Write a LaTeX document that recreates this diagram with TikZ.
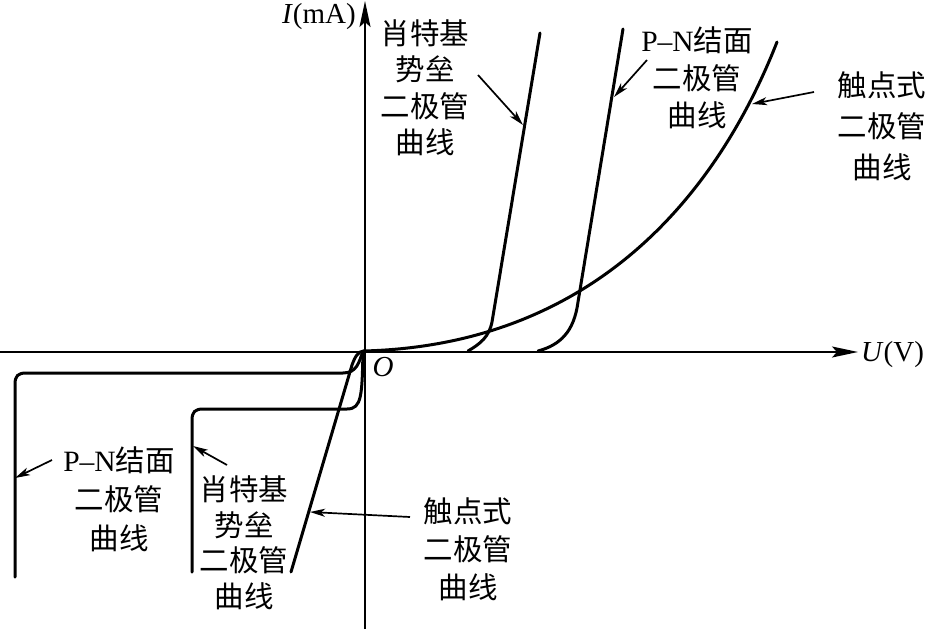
\documentclass[tikz,border=0pt]{standalone}
\usepackage{fontspec}
\setmainfont{Liberation Serif}
\newfontfamily\cjk{Noto Sans CJK SC}
\usetikzlibrary{arrows.meta}
\tikzset{
  axis/.style={line width=1.9pt,-{Stealth[length=26pt,width=11pt,inset=5pt]}},
  curve/.style={line width=3pt,line cap=round,line join=round},
  pointer/.style={line width=1.7pt,-{Stealth[length=15pt,width=8pt,inset=4pt]}},
  lbl/.style={align=center,inner sep=0pt,font=\fontsize{29.5}{36.5}\selectfont},
  axl/.style={inner sep=0pt,font=\fontsize{29}{34}\selectfont}
}
\begin{document}
\begin{tikzpicture}[x=1pt,y=-1pt]
\useasboundingbox (0,0) rectangle (928,629);
% axes
\coordinate (xs) at (0,352);
\coordinate (xe) at (858,352);
\coordinate (ys) at (365,629);
\coordinate (ye) at (365,1);
\draw[axis] (xs) -- (xe);
\draw[axis] (ys) -- (ye);
\node[axl,anchor=east] (ylab) at (356,17) {\textit{I}(mA)};
\node[axl,anchor=west] (xlab) at (861,355) {\textit{U}(V)};
\node[axl] (orig) at (383,367) {\textit{O}};
% forward curves
\draw[curve] (468,351) .. controls (480,344) and (489,337) .. (492,322) -- (540,33);
\draw[curve] (538,351) .. controls (560,345) and (574,332) .. (578,302) -- (623,29);
\draw[curve] (364,351) .. controls (590,345) and (715,200) .. (777,42);
% reverse curves
\draw[curve] (363,351) .. controls (359,362) and (357,373) .. (343,373) -- (26,373) .. controls (18,373) and (15,376) .. (15,384) -- (15,577);
\draw[curve] (363,351) .. controls (362,395) and (362,409) .. (347,409) -- (203,409) .. controls (195,409) and (192,412) .. (192,420) -- (192,572);
\draw[curve] (364,351) .. controls (358,351) and (355,357) .. (352,365) -- (291,572);
% labels
\node[lbl] (tS) at (425,88) {\cjk 肖特基\\\cjk 势垒\\\cjk 二极管\\\cjk 曲线};
\node[lbl,font=\fontsize{29.5}{37.5}\selectfont] (tP) at (697,78) {P–N\cjk 结面\\\cjk 二极管\\\cjk 曲线};
\node[lbl,font=\fontsize{29.5}{41}\selectfont] (tC) at (882,126) {\cjk 触点式\\\cjk 二极管\\\cjk 曲线};
\node[lbl,font=\fontsize{29.5}{39}\selectfont] (bP) at (119,499) {P–N\cjk 结面\\\cjk 二极管\\\cjk 曲线};
\node[lbl,font=\fontsize{29.5}{35.5}\selectfont] (bS) at (244,543) {\cjk 肖特基\\\cjk 势垒\\\cjk 二极管\\\cjk 曲线};
\node[lbl,font=\fontsize{29.5}{38}\selectfont] (bC) at (468,549) {\cjk 触点式\\\cjk 二极管\\\cjk 曲线};
% pointers
\coordinate (tSa) at (478,75);  \coordinate (tSb) at (523,125);
\coordinate (tPa) at (647,60);  \coordinate (tPb) at (614,97);
\coordinate (tCa) at (814,92);  \coordinate (tCb) at (752,104);
\coordinate (bPa) at (52,460);  \coordinate (bPb) at (15,478);
\coordinate (bSa) at (227,465); \coordinate (bSb) at (193,446);
\coordinate (bCa) at (410,517); \coordinate (bCb) at (310,512);
\draw[pointer] (tSa) -- (tSb);
\draw[pointer] (tPa) -- (tPb);
\draw[pointer] (tCa) -- (tCb);
\draw[pointer] (bPa) -- (bPb);
\draw[pointer] (bSa) -- (bSb);
\draw[pointer] (bCa) -- (bCb);
\end{tikzpicture}
\end{document}
